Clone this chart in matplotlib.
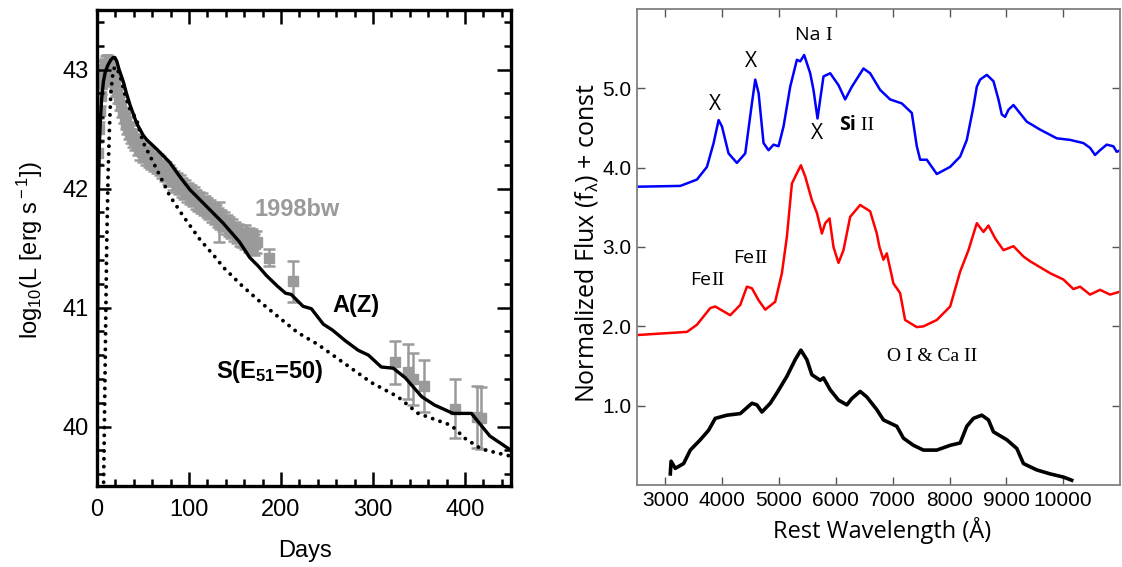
import numpy as np
import matplotlib.pyplot as plt
from matplotlib.ticker import MultipleLocator, FixedLocator
from matplotlib.offsetbox import TextArea, HPacker, AnnotationBbox

plt.rcParams['mathtext.fontset'] = 'custom'
plt.rcParams['mathtext.rm'] = 'Liberation Sans'
plt.rcParams['mathtext.bf'] = 'Liberation Sans:bold'
plt.rcParams['mathtext.it'] = 'Liberation Sans:italic'

SANS = 'Liberation Sans'
HUMAN = ['Open Sans', 'DejaVu Sans']
NARROW = ['Liberation Sans Narrow', 'Liberation Sans']
SERIF = 'Liberation Serif'

# ---------------- left panel data (light curve of SN 1998bw) ----------------
az_days = [0, 0.5, 1.0, 1.5, 2.5, 3.5, 5, 7, 9, 12, 15, 17.5, 19.5, 21.5, 24, 28.5,
           32, 36, 43, 50, 54, 65, 79, 90, 101, 110, 119, 128, 137, 146, 155, 166,
           175, 184, 196, 205, 211, 224, 233, 246, 256, 270, 284, 295, 309, 322, 335,
           353, 367, 387, 407, 427, 450]
az_lum = [39.3, 40.4, 41.3, 41.9, 42.35, 42.55, 42.75, 42.9, 42.98, 43.04, 43.08, 43.1,
          43.1, 43.07, 43.0, 42.9, 42.8, 42.7, 42.55, 42.45, 42.41, 42.33, 42.22, 42.1,
          41.99, 41.92, 41.85, 41.78, 41.71, 41.63, 41.55, 41.42, 41.35, 41.27, 41.18,
          41.12, 41.11, 41.01, 40.99, 40.86, 40.81, 40.72, 40.64, 40.60, 40.50, 40.49,
          40.41, 40.25, 40.18, 40.11, 40.11, 39.92, 39.80]

s_days = [7, 9, 10.5, 12, 13.5, 15, 17, 19, 21, 25, 30, 35, 43, 50, 65, 79, 93.5, 112,
          130, 137, 158, 180, 202, 218, 240, 269, 298, 327, 349, 367, 385, 400, 418, 450]
s_lum = [39.4, 40.6, 41.5, 42.1, 42.5, 42.8, 42.95, 43.02, 43.02, 42.95, 42.8, 42.68,
         42.58, 42.39, 42.16, 41.94, 41.77, 41.57, 41.41, 41.34, 41.18, 41.03, 40.89,
         40.79, 40.69, 40.53, 40.37, 40.25, 40.11, 40.06, 40.01, 39.90, 39.81, 39.75]

# dense early photometry
obs_days = [1, 2, 3, 4, 5, 6, 7, 8, 9, 10, 11, 12, 13, 14, 15, 16, 17, 18, 19, 20, 22,
            24, 26, 28, 30, 32, 34, 36, 38, 40, 43, 46, 49, 52, 55, 58, 61, 64, 67, 70,
            73, 76, 79, 82, 85, 88, 91, 94, 97, 100, 103, 106, 109, 112, 115, 118, 121,
            124, 127, 130, 133, 136, 139, 142, 145, 148, 151, 154, 157, 160, 162, 164,
            166, 168, 170, 172, 174]
obs_lum = [42.30, 42.50, 42.65, 42.78, 42.88, 42.95, 42.98, 43.00, 43.02, 43.03, 43.03,
           43.03, 43.02, 43.00, 42.99, 42.97, 42.95, 42.92, 42.90, 42.87, 42.81, 42.75,
           42.69, 42.64, 42.59, 42.55, 42.51, 42.47, 42.44, 42.41, 42.37, 42.33, 42.31,
           42.29, 42.27, 42.25, 42.24, 42.22, 42.20, 42.18, 42.15, 42.13, 42.11, 42.08,
           42.06, 42.04, 42.02, 42.00, 41.98, 41.96, 41.94, 41.92, 41.90, 41.88, 41.87,
           41.85, 41.83, 41.81, 41.79, 41.77, 41.75, 41.73, 41.71, 41.69, 41.67, 41.65,
           41.63, 41.61, 41.60, 41.58, 41.60, 41.56, 41.58, 41.54, 41.57, 41.53, 41.55]
obs_err = 0.09

# sparse late photometry with larger errors
late_days = [133, 187, 213, 324, 338, 344, 355, 389, 413, 417]
late_lum = [41.72, 41.42, 41.22, 40.54, 40.46, 40.40, 40.34, 40.15, 40.08, 40.07]
late_err = [0.17, 0.07, 0.17, 0.18, 0.23, 0.22, 0.22, 0.25, 0.26, 0.26]

# ---------------- right panel data (spectra) ----------------
blue_wl = [2500, 3262, 3555, 3731, 3848, 3936, 3995, 4111, 4258, 4405, 4522, 4581, 4640,
           4727, 4815, 4903, 4991, 5079, 5196, 5314, 5372, 5442, 5548, 5606, 5677, 5724,
           5782, 5900, 6046, 6163, 6281, 6485, 6603, 6779, 6955, 7160, 7336, 7424, 7483,
           7600, 7776, 8011, 8187, 8304, 8421, 8480, 8538, 8656, 8773, 8861, 8920, 8978,
           9037, 9125, 9359, 9593, 9887, 10121, 10356, 10473, 10561, 10649, 10766, 10883,
           10942, 11012]
blue_f = [3.76, 3.77, 3.85, 4.01, 4.31, 4.60, 4.52, 4.18, 4.06, 4.18, 4.81, 5.11, 4.94,
          4.31, 4.22, 4.29, 4.27, 4.52, 5.02, 5.36, 5.34, 5.42, 5.19, 4.98, 4.62, 4.86,
          5.15, 5.19, 5.04, 4.86, 5.02, 5.25, 5.19, 4.98, 4.86, 4.81, 4.69, 4.27, 4.10,
          4.10, 3.92, 4.01, 4.14, 4.35, 4.77, 5.02, 5.11, 5.17, 5.09, 4.86, 4.67, 4.64,
          4.73, 4.79, 4.58, 4.48, 4.37, 4.35, 4.31, 4.25, 4.16, 4.22, 4.29, 4.27, 4.20,
          4.22]

red_wl = [2500, 3379, 3555, 3789, 3877, 4141, 4317, 4434, 4522, 4639, 4757, 4932, 5050,
          5138, 5226, 5314, 5384, 5460, 5578, 5666, 5754, 5812, 5888, 5958, 6046, 6134,
          6251, 6427, 6603, 6720, 6767, 6837, 6896, 7013, 7130, 7218, 7424, 7541, 7776,
          8011, 8187, 8333, 8480, 8597, 8685, 8802, 8949, 9125, 9301, 9418, 9770, 10004,
          10180, 10297, 10473, 10649, 10825, 11012]
red_f = [1.89, 1.93, 2.02, 2.23, 2.25, 2.14, 2.27, 2.50, 2.48, 2.33, 2.21, 2.31, 2.67,
         3.13, 3.80, 3.93, 4.03, 3.89, 3.59, 3.43, 3.17, 3.30, 3.36, 3.00, 2.80, 2.96,
         3.38, 3.53, 3.45, 3.17, 3.00, 2.84, 2.92, 2.54, 2.42, 2.08, 1.99, 2.00, 2.08,
         2.25, 2.69, 2.96, 3.30, 3.19, 3.27, 3.11, 2.96, 3.01, 2.88, 2.82, 2.67, 2.59,
         2.47, 2.50, 2.40, 2.46, 2.40, 2.44]

black_wl = [3086, 3100, 3174, 3320, 3438, 3614, 3760, 3877, 4083, 4317, 4522, 4610, 4698,
            4845, 4962, 5138, 5284, 5384, 5489, 5577, 5724, 5782, 5900, 6046, 6193, 6281,
            6427, 6544, 6720, 6837, 7072, 7189, 7365, 7541, 7776, 8011, 8187, 8304, 8421,
            8568, 8685, 8773, 9008, 9184, 9301, 9535, 9770, 10004, 10150]
black_f = [0.14, 0.30, 0.21, 0.27, 0.44, 0.57, 0.69, 0.84, 0.88, 0.90, 1.03, 1.01, 0.92,
           1.03, 1.16, 1.37, 1.58, 1.70, 1.58, 1.39, 1.32, 1.35, 1.20, 1.07, 1.01, 1.09,
           1.18, 1.11, 0.95, 0.82, 0.74, 0.59, 0.50, 0.44, 0.44, 0.50, 0.53, 0.74, 0.84,
           0.88, 0.82, 0.67, 0.57, 0.46, 0.27, 0.19, 0.14, 0.10, 0.06]

wl_ticks = [3000, 4000, 5000, 6000, 7000, 8000, 9000, 10000]
flux_ticks = [1.0, 2.0, 3.0, 4.0, 5.0]

# ---------------- figure ----------------
W, H = 1122, 567
fig = plt.figure(figsize=(W / 100, H / 100), dpi=100)


def box(l, t, r, b):
    return [l / W, 1 - b / H, (r - l) / W, (b - t) / H]


ax1 = fig.add_axes(box(97, 10, 511, 486))
ax2 = fig.add_axes(box(637, 9, 1120, 485))

# left panel
gray = '#9a9a9a'
ax1.errorbar(obs_days, obs_lum, yerr=obs_err, fmt='s', ms=7, color=gray, ecolor=gray,
             elinewidth=1.8, capsize=3.5, capthick=1.8, zorder=1)
ax1.errorbar(late_days, late_lum, yerr=late_err, fmt='s', ms=6.5, color=gray, ecolor=gray,
             elinewidth=1.8, capsize=4, capthick=1.8, zorder=1)
ax1.plot(s_days, s_lum, color='black', lw=2.8, ls=(0, (0.01, 2.0)),
         dash_capstyle='round', zorder=2)
ax1.plot(az_days, az_lum, color='black', lw=2.4, zorder=3)

ax1.set_xlim(0, 450)
ax1.set_ylim(39.5, 43.5)
ax1.xaxis.set_major_locator(MultipleLocator(100))
ax1.xaxis.set_minor_locator(MultipleLocator(20))
ax1.yaxis.set_major_locator(MultipleLocator(1))
ax1.yaxis.set_minor_locator(MultipleLocator(0.2))
ax1.tick_params(which='both', direction='in', top=True, right=True, width=1.8,
                labelsize=17)
ax1.tick_params(which='major', length=10)
ax1.tick_params(which='minor', length=5)
ax1.tick_params(axis='x', pad=9)
ax1.tick_params(axis='y', pad=6)
for lab in ax1.get_xticklabels() + ax1.get_yticklabels():
    lab.set_family(SANS)
for sp in ax1.spines.values():
    sp.set_linewidth(2.4)

ax1.text(217, 41.82, '1998bw', color=gray, fontsize=17, fontweight='bold',
         family=SANS, ha='center', va='center')
ax1.text(282, 41.02, 'A(Z)', color='black', fontsize=17, fontweight='bold',
         family=SANS, ha='center', va='center')
ax1.text(188, 40.46, r'S(E$_{\mathbf{51}}$=50)', color='black', fontsize=17,
         fontweight='bold', family=SANS, ha='center', va='center')

fig.text(30 / W, 1 - 250 / H, r'log$_{\rm 10}$(L [erg s$^{\rm -1}$])', rotation=90,
         fontsize=17, family=SANS, ha='center', va='center')
fig.text(305 / W, 1 - 551 / H, 'Days', fontsize=17, family=SANS,
         ha='center', va='center')

# right panel
ax2.plot(blue_wl, blue_f, color='#0000ff', lw=1.8)
ax2.plot(red_wl, red_f, color='#ff0000', lw=1.8)
ax2.plot(black_wl, black_f, color='black', lw=2.6)

ax2.set_xlim(2500, 11000)
ax2.set_ylim(0, 6)
ax2.xaxis.set_major_locator(FixedLocator(wl_ticks))
ax2.yaxis.set_major_locator(FixedLocator(flux_ticks))
ax2.set_xticklabels([str(t) for t in wl_ticks])
ax2.set_yticklabels(['%.1f' % t for t in flux_ticks])
ax2.tick_params(direction='in', top=True, right=True, length=6, width=1.0,
                color='#555555', labelsize=15, pad=4)
for lab in ax2.get_xticklabels() + ax2.get_yticklabels():
    lab.set_family(NARROW)
for sp in ax2.spines.values():
    sp.set_linewidth(1.3)
    sp.set_color('#808080')

fig.text(586 / W, 1 - 243 / H, r'Normalized Flux (f$_{\mathrm{\lambda}}$) + const',
         rotation=90, fontsize=18, family=HUMAN, ha='center', va='center')
fig.text(882 / W, 1 - 531 / H, 'Rest Wavelength (Å)', fontsize=17, family=HUMAN,
         ha='center', va='center')


def mixed(ax, x, y, parts, size=14):
    boxes = [TextArea(s, textprops=dict(family=f, size=size, fontweight=w))
             for s, f, w in parts]
    pack = HPacker(children=boxes, align='baseline', pad=0, sep=0)
    ab = AnnotationBbox(pack, (x, y), xycoords='data', frameon=False,
                        box_alignment=(0.5, 0.5), pad=0)
    ax.add_artist(ab)


mixed(ax2, 3877, 4.79, [('X', HUMAN, 'normal')], size=15)
mixed(ax2, 4510, 5.34, [('X', HUMAN, 'normal')], size=15)
mixed(ax2, 5666, 4.43, [('X', HUMAN, 'normal')], size=15)
mixed(ax2, 5606, 5.67, [('Na ', HUMAN, 'normal'), ('I', SERIF, 'normal')])
mixed(ax2, 6369, 4.54, [('Si', HUMAN, 'bold'), (' II', SERIF, 'normal')])
mixed(ax2, 3731, 2.59, [('Fe', HUMAN, 'normal'), ('II', SERIF, 'normal')])
mixed(ax2, 4493, 2.86, [('Fe', HUMAN, 'normal'), ('II', SERIF, 'normal')])
mixed(ax2, 7688, 1.62, [('O I & Ca II', SERIF, 'normal')])

fig.savefig('out.png', dpi=100)
